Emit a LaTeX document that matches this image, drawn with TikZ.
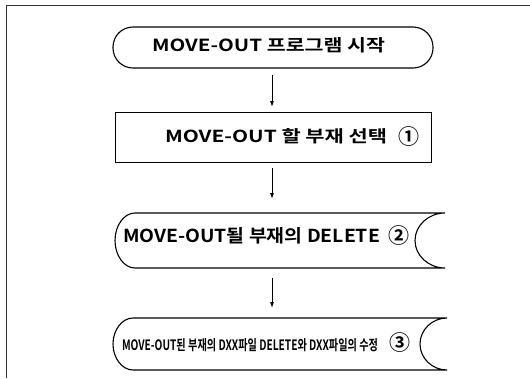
\documentclass[tikz,border=0pt]{standalone}
\usepackage{fontspec}
\newfontfamily\kr{Noto Sans CJK KR}[BoldFont={* Bold}]
\usetikzlibrary{arrows.meta}
\newcommand\fitline[3]{\resizebox{#1pt}{#2pt}{\kr\bfseries #3}}
\newcommand\circnum[1]{\resizebox{21pt}{!}{\kr\bfseries #1}}
\begin{document}
\begin{tikzpicture}[x=1pt,y=-1pt,
  shapeline/.style={line width=1.1pt},
  box/.style={draw,line width=1pt,inner sep=0pt,outer sep=0pt},
  holder/.style={inner sep=0pt,outer sep=0pt},
  txt/.style={inner sep=0pt,outer sep=0pt,anchor=base west},
  num/.style={inner sep=0pt,outer sep=0pt},
  arr/.style={line width=0.9pt,-{Latex[length=6pt,width=4pt]}}]
\useasboundingbox (0,0) rectangle (530,378);
% frame
\draw[line width=0.7pt,black!80] (6,378) -- (6,5) -- (530,5);
% shape 1: terminal
\node[box,shapeline,rounded corners=20pt,minimum width=320pt,minimum height=41pt] (s1) at (273,47.5) {};
\node[txt] (t1) at (152,51) {\fitline{233}{14}{MOVE-OUT 프로그램 시작}};
% shape 2: process box
\node[box,minimum width=316pt,minimum height=50pt] (s2) at (273,137) {};
\node[txt] (t2) at (165,142) {\fitline{222}{14}{MOVE-OUT 할 부재 선택}};
\node[num] (n1) at (409,137) {\circnum{①}};
% shape 3: stored data
\node[holder,minimum width=330pt,minimum height=55pt] (s3) at (280,240.5) {};
\draw[shapeline] (s3.north east) -- ([xshift=20pt]s3.north west)
  .. controls ([xshift=9pt]s3.north west) and ([yshift=15pt]s3.west) .. (s3.west)
  .. controls ([yshift=-15pt]s3.west) and ([xshift=9pt]s3.south west) .. ([xshift=20pt]s3.south west)
  -- (s3.south east)
  .. controls ([xshift=-16.5pt]s3.south east) and ([xshift=-30pt,yshift=-15pt]s3.east) .. ([xshift=-30pt]s3.east)
  .. controls ([xshift=-30pt,yshift=15pt]s3.east) and ([xshift=-16.5pt]s3.north east) .. (s3.north east);
\node[txt] (t3) at (123,242) {\fitline{257}{15}{MOVE-OUT될 부재의 DELETE}};
\node[num] (n2) at (399,236) {\circnum{②}};
% shape 4: stored data
\node[holder,minimum width=334pt,minimum height=52pt] (s4) at (280,344) {};
\draw[shapeline] (s4.north east) -- ([xshift=20pt]s4.north west)
  .. controls ([xshift=9pt]s4.north west) and ([yshift=14pt]s4.west) .. (s4.west)
  .. controls ([yshift=-14pt]s4.west) and ([xshift=9pt]s4.south west) .. ([xshift=20pt]s4.south west)
  -- (s4.south east)
  .. controls ([xshift=-15pt]s4.south east) and ([xshift=-27pt,yshift=-14pt]s4.east) .. ([xshift=-27pt]s4.east)
  .. controls ([xshift=-27pt,yshift=14pt]s4.east) and ([xshift=-15pt]s4.north east) .. (s4.north east);
\node[txt] (t4) at (122,350) {\fitline{256}{12}{MOVE-OUT된 부재의 DXX파일 DELETE와 DXX파일의 수정}};
\node[num] (n3) at (400,343) {\circnum{③}};
% arrows
\coordinate (ax) at (272,0);
\draw[arr,shorten <=7pt,shorten >=5pt] (s1.south -| ax) -- (s2.north -| ax);
\draw[arr,shorten <=6pt,shorten >=14pt] (s2.south -| ax) -- (s3.north -| ax);
\draw[arr,shorten <=10pt,shorten >=10pt] (s3.south -| ax) -- (s4.north -| ax);
\end{tikzpicture}
\end{document}
